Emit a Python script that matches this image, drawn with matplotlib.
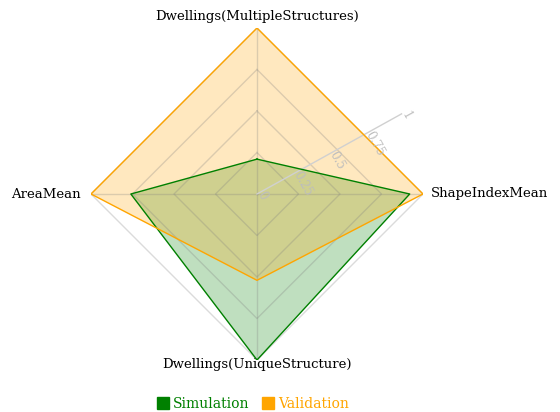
import matplotlib.pyplot as plt
from matplotlib.lines import Line2D
import numpy as np

categories = ['Dwellings(MultipleStructures)', 'ShapeIndexMean',
              'Dwellings(UniqueStructure)', 'AreaMean']
simulation = [0.21, 0.92, 1.0, 0.76]
validation = [1.0, 1.0, 0.52, 1.0]
grid_levels = [0.25, 0.5, 0.75, 1.0]
tick_labels = ['0', '0.25', '0.5', '0.75', '1']

plt.rcParams['font.family'] = 'DejaVu Serif'

fig = plt.figure(figsize=(5.6, 4.12), dpi=100)
ax = fig.add_axes([91 / 560, 52 / 412, 332 / 560, 332 / 412], projection='polar')
ax.set_theta_offset(np.pi / 2)
ax.set_theta_direction(-1)
ax.set_ylim(0, 1)
ax.axis('off')

angles = np.linspace(0, 2 * np.pi, len(categories), endpoint=False)
closed = np.append(angles, angles[0])

# series
for vals, col in [(simulation, '#008000'), (validation, '#ffa500')]:
    v = np.append(vals, vals[0])
    ax.fill(closed, v, color=col, alpha=0.25, lw=0, zorder=2)
    ax.plot(closed, v, color=col, lw=1, zorder=4)

# diamond grid + spokes
for lv in grid_levels:
    ax.plot(closed, [lv] * len(closed), color='#808080', alpha=0.28, lw=1, zorder=3)
for a in angles:
    ax.plot([a, a], [0, 1], color='#808080', alpha=0.28, lw=1, zorder=3)

# radial axis
ra = np.deg2rad(61)
ax.plot([ra, ra], [0, 1.02], color='#d0d0d0', lw=1, zorder=3)
for lv, lab in zip([0] + grid_levels, tick_labels):
    ax.text(ra, lv + 0.02, lab, rotation=-61, rotation_mode='anchor',
            ha='left', va='center', fontsize=8.5, color='#bdbdbd', zorder=5)

# category labels
fs = 9.5
ax.text(angles[0], 1.07, categories[0], ha='center', va='center', fontsize=fs)
ax.text(angles[1], 1.05, categories[1], ha='left', va='center', fontsize=fs)
ax.text(angles[2], 0.99, categories[2], ha='center', va='top', fontsize=fs)
ax.text(angles[3], 1.06, categories[3], ha='right', va='center', fontsize=fs)

handles = [Line2D([], [], marker='s', ls='none', color='#008000', markersize=8),
           Line2D([], [], marker='s', ls='none', color='#ffa500', markersize=8)]
fig.legend(handles, ['Simulation', 'Validation'], loc='center', bbox_to_anchor=(0.452, 0.02),
           ncol=2, frameon=False, fontsize=10, labelcolor=['#008000', '#ffa500'],
           handletextpad=0.25, columnspacing=0.9, handlelength=0.9)

plt.savefig('out.png', dpi=100)
